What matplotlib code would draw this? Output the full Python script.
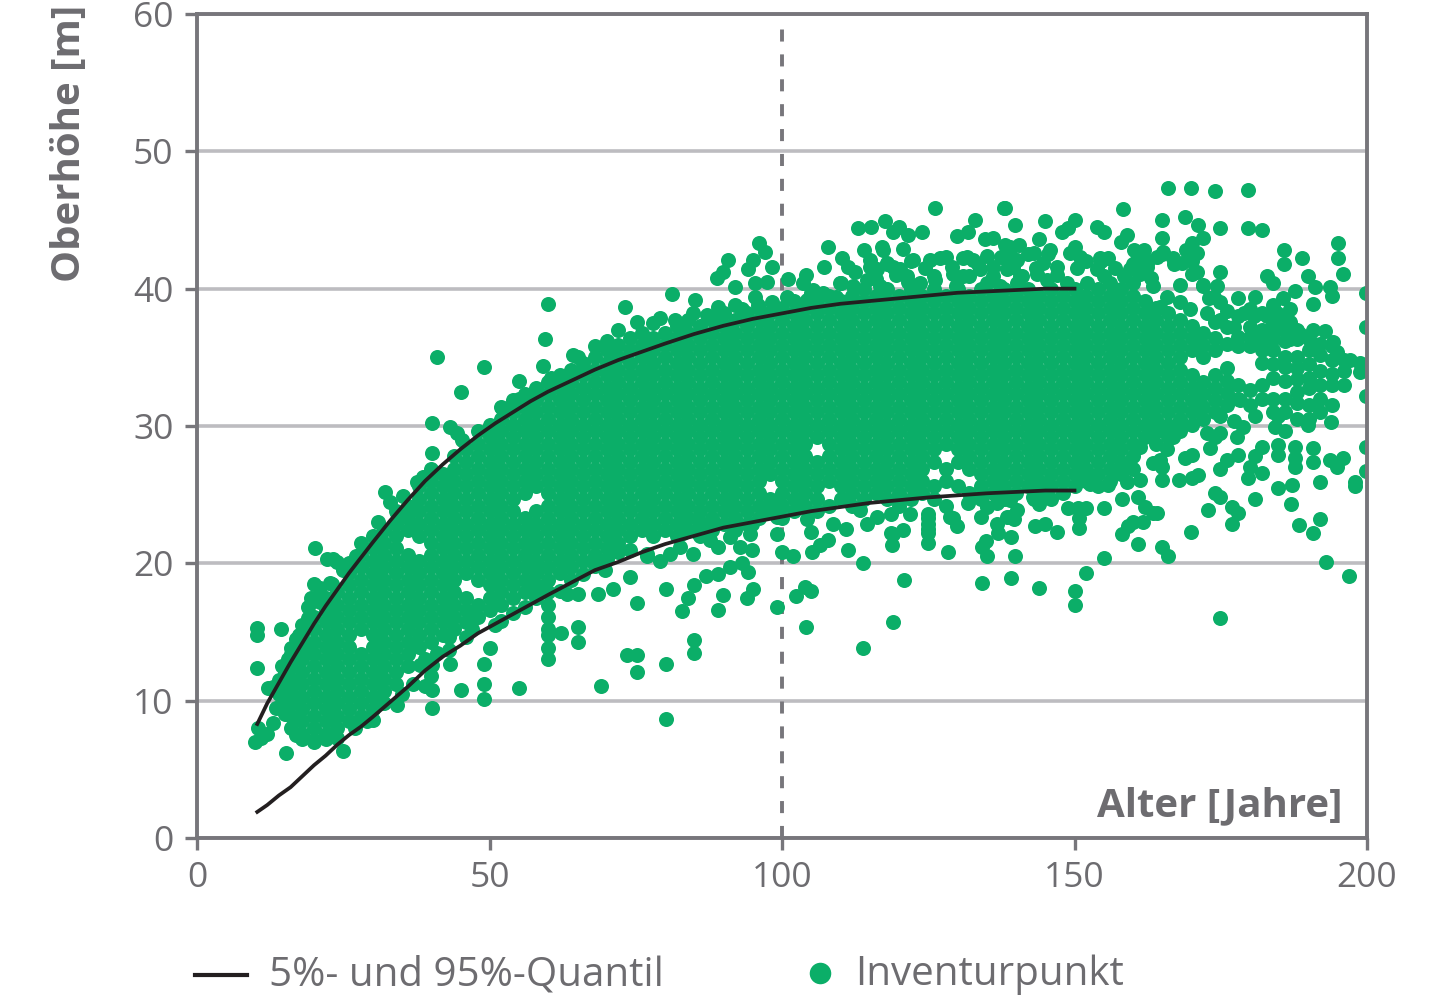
import matplotlib
matplotlib.use("Agg")
import matplotlib.pyplot as plt

# quantile curves
curve_age = [10.3, 12, 14, 16, 18, 20, 22, 24, 26, 28, 30, 33, 36, 39, 42, 45, 48, 51, 54, 57, 60, 64, 68, 72, 76, 80,
             85, 90, 95, 100, 105, 110, 115, 120, 125, 130, 135, 140, 145, 150]
q95_height = [8.3, 9.8, 11.3, 12.8, 14.2, 15.6, 16.9, 18.1, 19.3, 20.4, 21.5, 23.1, 24.6, 26.0, 27.2, 28.3, 29.3, 30.2,
              31.0, 31.8, 32.5, 33.3, 34.1, 34.8, 35.4, 36.0, 36.7, 37.3, 37.8, 38.2, 38.6, 38.9, 39.1, 39.3, 39.5,
              39.7, 39.8, 39.9, 40.0, 40.0]
q05_height = [1.9, 2.4, 3.1, 3.7, 4.5, 5.3, 6.0, 6.8, 7.5, 8.1, 8.8, 9.9, 11.0, 12.2, 13.2, 14.0, 14.9, 15.6, 16.3, 17.0,
              17.7, 18.6, 19.5, 20.1, 20.8, 21.4, 22.0, 22.6, 23.0, 23.4, 23.8, 24.1, 24.4, 24.6, 24.8, 24.95, 25.1,
              25.2, 25.3, 25.3]

# the dense body can't be read point by point, so these columns are estimates of its outline
ages_young = [16, 18, 20, 22, 24, 26, 28, 30, 32, 34, 36, 38]
heights_young = [
    [8.0, 8.9, 9.8, 10.7, 11.6, 12.5, 13.4],
    [7.6, 8.5, 9.4, 10.3, 11.2, 12.1, 13.0, 13.9, 14.8],
    [7.1, 8.0, 8.9, 9.8, 10.7, 11.6, 12.5, 13.4, 14.3, 15.2, 16.1],
    [7.6, 8.5, 9.4, 10.3, 11.2, 12.1, 13.0, 13.9, 14.8, 15.7, 16.6, 17.5],
    [8.0, 8.9, 9.8, 10.7, 11.6, 12.5, 13.4, 14.3, 15.2, 16.1, 17.0, 17.9],
    [8.5, 9.4, 10.3, 11.2, 12.1, 13.0, 13.9, 14.8, 15.7, 16.6, 17.5, 18.4, 19.3],
    [8.9, 9.8, 10.7, 11.6, 12.5, 13.4, 15.2, 16.1, 17.0, 17.9, 18.8, 19.7, 20.6],
    [9.4, 10.3, 11.2, 12.1, 13.0, 13.9, 14.8, 15.7, 16.6, 17.5, 18.4, 19.3, 20.2, 21.1],
    [10.7, 11.6, 12.5, 13.4, 14.3, 15.2, 16.1, 17.0, 17.9, 18.8, 19.7, 20.6, 21.5, 22.4],
    [11.2, 12.1, 13.0, 13.9, 14.8, 15.7, 16.6, 17.5, 18.4, 19.3, 20.2, 21.1, 22.0, 22.9, 23.8],
    [12.5, 13.4, 14.3, 15.2, 16.1, 17.0, 17.9, 18.8, 19.7, 20.6, 22.4, 23.3, 24.2],
    [13.9, 14.8, 15.7, 16.6, 17.5, 18.4, 19.3, 20.2, 22.0, 22.9, 23.8, 24.7, 25.6],
]

ages_rising = [40, 42, 44, 46, 48, 50, 52, 54, 56, 58, 60, 62, 64, 66, 68, 70, 72, 74]
heights_rising = [
    [14.3, 15.2, 16.1, 17.0, 17.9, 18.8, 19.7, 20.6, 21.5, 22.4, 23.3, 24.2, 25.1, 26.0, 26.9],
    [14.8, 15.7, 16.6, 17.5, 18.4, 19.3, 20.2, 21.1, 22.0, 22.9, 23.8, 24.7, 25.6, 26.5],
    [15.2, 16.1, 17.0, 17.9, 18.8, 19.7, 20.6, 21.5, 22.4, 23.3, 24.2, 25.1, 26.0, 26.9, 27.8],
    [15.7, 16.6, 17.5, 19.3, 20.2, 21.1, 22.0, 22.9, 23.8, 24.7, 25.6, 26.5, 27.4, 28.3],
    [16.1, 17.0, 18.8, 19.7, 20.6, 21.5, 22.4, 23.3, 24.2, 25.1, 26.0, 26.9, 27.8, 28.7, 29.6],
    [16.6, 17.5, 18.4, 19.3, 20.2, 21.1, 22.0, 22.9, 23.8, 24.7, 25.6, 26.5, 27.4, 28.3, 29.2, 30.1],
    [17.0, 17.9, 18.8, 19.7, 20.6, 21.5, 22.4, 23.3, 24.2, 25.1, 26.0, 26.9, 27.8, 28.7, 29.6, 30.5, 31.4],
    [17.5, 18.4, 19.3, 20.2, 21.1, 22.0, 22.9, 23.8, 24.7, 25.6, 26.5, 27.4, 28.3, 29.2, 30.1, 31.0, 31.9],
    [17.9, 18.8, 19.7, 20.6, 21.5, 22.4, 23.3, 25.1, 26.0, 26.9, 27.8, 28.7, 29.6, 30.5, 31.4, 32.3],
    [18.4, 19.3, 20.2, 21.1, 22.0, 22.9, 23.8, 25.6, 26.5, 27.4, 28.3, 29.2, 30.1, 31.0, 31.9, 32.8],
    [15.2, 16.1, 17.0, 17.9, 18.8, 19.7, 20.6, 21.5, 22.4, 23.3, 24.2, 25.1, 26.0, 26.9, 27.8, 28.7, 29.6, 30.5, 31.4, 32.3, 33.2],
    [19.3, 20.2, 21.1, 22.0, 22.9, 23.8, 24.7, 25.6, 26.5, 27.4, 28.3, 29.2, 30.1, 31.0, 31.9, 32.8, 33.7],
    [19.7, 20.6, 21.5, 22.4, 23.3, 24.2, 25.1, 26.0, 26.9, 27.8, 28.7, 29.6, 30.5, 31.4, 32.3, 33.2, 34.1],
    [20.2, 21.1, 22.0, 22.9, 23.8, 24.7, 25.6, 26.5, 27.4, 28.3, 29.2, 30.1, 31.0, 31.9, 32.8, 33.7, 34.6],
    [20.6, 21.5, 22.4, 23.3, 24.2, 25.1, 26.0, 26.9, 27.8, 28.7, 29.6, 30.5, 31.4, 32.3, 33.2, 34.1, 35.0],
    [21.1, 22.0, 22.9, 23.8, 24.7, 25.6, 26.5, 27.4, 28.3, 29.2, 30.1, 31.0, 31.9, 32.8, 33.7, 34.6, 35.5],
    [21.5, 22.4, 23.3, 24.2, 25.1, 26.0, 26.9, 27.8, 28.7, 29.6, 30.5, 31.4, 32.3, 33.2, 34.1, 35.0, 35.9],
    [22.0, 22.9, 23.8, 24.7, 25.6, 26.5, 27.4, 28.3, 29.2, 30.1, 31.0, 31.9, 32.8, 33.7, 34.6, 35.5, 36.4],
]

ages_middle = [76, 78, 80, 82, 84, 86, 88, 90, 92, 94, 96, 98, 100, 102, 104, 106, 108, 110]
heights_middle = [
    [22.4, 23.3, 24.2, 25.1, 26.0, 26.9, 27.8, 28.7, 29.6, 30.5, 31.4, 32.3, 33.2, 34.1, 35.0, 35.9, 36.8],
    [22.0, 22.9, 23.8, 24.7, 25.6, 26.5, 27.4, 28.3, 29.2, 30.1, 31.0, 31.9, 32.8, 33.7, 34.6, 35.5, 36.4],
    [22.4, 23.3, 24.2, 25.1, 26.0, 26.9, 27.8, 28.7, 29.6, 30.5, 31.4, 32.3, 33.2, 34.1, 35.0, 35.9, 36.8],
    [22.0, 22.9, 23.8, 24.7, 25.6, 26.5, 27.4, 28.3, 29.2, 30.1, 31.0, 31.9, 32.8, 33.7, 34.6, 35.5, 36.4, 37.3],
    [22.4, 23.3, 24.2, 25.1, 26.0, 26.9, 27.8, 28.7, 29.6, 30.5, 31.4, 32.3, 33.2, 34.1, 35.0, 35.9, 36.8, 37.7],
    [22.0, 22.9, 23.8, 24.7, 25.6, 26.5, 27.4, 28.3, 29.2, 30.1, 31.0, 31.9, 32.8, 33.7, 34.6, 35.5, 36.4, 37.3],
    [22.4, 23.3, 24.2, 25.1, 26.0, 26.9, 27.8, 28.7, 29.6, 30.5, 31.4, 32.3, 33.2, 34.1, 35.0, 35.9, 36.8, 37.7],
    [22.9, 23.8, 24.7, 25.6, 26.5, 27.4, 28.3, 29.2, 30.1, 31.0, 31.9, 32.8, 33.7, 34.6, 35.5, 36.4, 37.3, 38.2],
    [22.4, 23.3, 24.2, 25.1, 26.0, 26.9, 27.8, 28.7, 29.6, 30.5, 31.4, 32.3, 33.2, 34.1, 35.0, 35.9, 36.8, 37.7],
    [22.9, 23.8, 24.7, 25.6, 26.5, 27.4, 28.3, 29.2, 30.1, 31.0, 31.9, 32.8, 33.7, 34.6, 35.5, 36.4, 37.3, 38.2],
    [23.3, 24.2, 25.1, 26.0, 26.9, 27.8, 28.7, 29.6, 30.5, 31.4, 32.3, 33.2, 34.1, 35.0, 35.9, 36.8, 37.7, 38.6],
    [23.8, 24.7, 26.5, 27.4, 28.3, 29.2, 30.1, 31.0, 31.9, 32.8, 33.7, 34.6, 35.5, 36.4, 37.3, 38.2],
    [23.3, 24.2, 25.1, 26.0, 26.9, 27.8, 28.7, 29.6, 30.5, 31.4, 32.3, 33.2, 34.1, 35.0, 35.9, 36.8, 37.7, 38.6],
    [23.8, 24.7, 25.6, 26.5, 27.4, 28.3, 29.2, 30.1, 31.0, 31.9, 32.8, 33.7, 34.6, 35.5, 36.4, 37.3, 38.2, 39.1],
    [24.2, 25.1, 26.0, 26.9, 27.8, 28.7, 29.6, 30.5, 31.4, 32.3, 33.2, 34.1, 35.0, 35.9, 36.8, 37.7, 38.6],
    [23.8, 24.7, 25.6, 26.5, 27.4, 29.2, 30.1, 31.0, 31.9, 32.8, 33.7, 34.6, 35.5, 36.4, 37.3, 38.2, 39.1],
    [24.2, 26.0, 26.9, 27.8, 28.7, 29.6, 30.5, 31.4, 32.3, 33.2, 34.1, 35.0, 35.9, 36.8, 37.7, 38.6, 39.5],
    [24.7, 25.6, 26.5, 27.4, 28.3, 29.2, 30.1, 31.0, 31.9, 32.8, 33.7, 34.6, 35.5, 36.4, 37.3, 38.2, 39.1],
]

ages_plateau = [112, 114, 116, 118, 120, 122, 124, 126, 128, 130, 132, 134, 136, 138, 140]
heights_plateau = [
    [24.2, 25.1, 26.0, 26.9, 27.8, 28.7, 29.6, 30.5, 31.4, 32.3, 33.2, 34.1, 35.0, 35.9, 36.8, 37.7, 38.6, 39.5],
    [24.7, 25.6, 26.5, 27.4, 28.3, 29.2, 30.1, 31.0, 31.9, 32.8, 33.7, 34.6, 35.5, 36.4, 37.3, 38.2, 39.1, 40.0],
    [25.1, 26.0, 26.9, 27.8, 28.7, 29.6, 30.5, 31.4, 32.3, 33.2, 34.1, 35.0, 35.9, 36.8, 37.7, 38.6, 39.5],
    [24.7, 25.6, 26.5, 27.4, 28.3, 29.2, 30.1, 31.0, 31.9, 32.8, 33.7, 34.6, 35.5, 36.4, 37.3, 38.2, 39.1, 40.0],
    [24.2, 25.1, 26.0, 26.9, 27.8, 28.7, 29.6, 30.5, 31.4, 32.3, 33.2, 34.1, 35.0, 35.9, 36.8, 37.7, 38.6, 39.5],
    [24.7, 25.6, 26.5, 27.4, 28.3, 29.2, 30.1, 31.0, 31.9, 32.8, 33.7, 34.6, 35.5, 36.4, 37.3, 38.2, 39.1, 40.0],
    [25.1, 26.0, 26.9, 27.8, 28.7, 29.6, 30.5, 31.4, 32.3, 33.2, 34.1, 35.0, 35.9, 36.8, 37.7, 38.6, 39.5],
    [24.7, 25.6, 27.4, 28.3, 29.2, 30.1, 31.0, 31.9, 32.8, 33.7, 34.6, 35.5, 36.4, 37.3, 38.2, 39.1, 40.0],
    [24.2, 26.0, 26.9, 28.7, 29.6, 30.5, 31.4, 32.3, 33.2, 34.1, 35.0, 35.9, 36.8, 37.7, 38.6, 39.5],
    [25.6, 27.4, 28.3, 29.2, 30.1, 31.0, 31.9, 32.8, 33.7, 34.6, 35.5, 36.4, 37.3, 38.2, 39.1, 40.0],
    [25.1, 26.9, 27.8, 28.7, 29.6, 30.5, 31.4, 32.3, 33.2, 34.1, 35.0, 35.9, 36.8, 37.7, 38.6, 39.5],
    [24.7, 25.6, 26.5, 27.4, 28.3, 29.2, 30.1, 31.0, 31.9, 32.8, 33.7, 34.6, 35.5, 36.4, 37.3, 38.2, 39.1, 40.0],
    [25.1, 26.0, 26.9, 27.8, 28.7, 29.6, 30.5, 31.4, 32.3, 33.2, 34.1, 35.0, 35.9, 36.8, 37.7, 38.6, 39.5],
    [24.7, 25.6, 26.5, 27.4, 28.3, 29.2, 30.1, 31.0, 31.9, 32.8, 33.7, 34.6, 35.5, 36.4, 37.3, 38.2, 39.1, 40.0],
    [25.1, 26.0, 26.9, 27.8, 28.7, 29.6, 30.5, 31.4, 32.3, 33.2, 34.1, 35.0, 35.9, 36.8, 37.7, 38.6, 39.5],
]

ages_old = [142, 144, 146, 148, 150, 152, 154, 156, 158, 160, 162, 164, 166, 168, 170, 172]
heights_old = [
    [25.6, 26.5, 27.4, 28.3, 29.2, 30.1, 31.0, 31.9, 32.8, 33.7, 34.6, 35.5, 36.4, 37.3, 38.2, 39.1, 40.0],
    [25.1, 26.0, 26.9, 27.8, 28.7, 29.6, 30.5, 31.4, 32.3, 33.2, 34.1, 35.0, 35.9, 36.8, 37.7, 38.6, 39.5],
    [24.7, 25.6, 26.5, 27.4, 28.3, 29.2, 30.1, 31.0, 31.9, 32.8, 33.7, 34.6, 35.5, 36.4, 37.3, 38.2, 39.1, 40.0],
    [25.1, 26.0, 26.9, 27.8, 28.7, 29.6, 30.5, 31.4, 32.3, 33.2, 34.1, 35.0, 35.9, 36.8, 37.7, 38.6, 39.5],
    [25.6, 26.5, 27.4, 28.3, 29.2, 30.1, 31.0, 31.9, 32.8, 33.7, 34.6, 35.5, 36.4, 37.3, 38.2, 39.1, 40.0],
    [26.0, 26.9, 27.8, 28.7, 29.6, 30.5, 31.4, 32.3, 33.2, 34.1, 35.0, 35.9, 36.8, 37.7, 38.6, 39.5],
    [25.6, 26.5, 27.4, 28.3, 29.2, 30.1, 31.0, 31.9, 32.8, 33.7, 34.6, 35.5, 36.4, 37.3, 38.2, 39.1, 40.0],
    [26.0, 26.9, 27.8, 28.7, 29.6, 30.5, 31.4, 32.3, 33.2, 34.1, 35.0, 35.9, 36.8, 37.7, 38.6, 39.5, 40.4],
    [26.5, 27.4, 28.3, 29.2, 30.1, 31.0, 31.9, 32.8, 33.7, 34.6, 35.5, 36.4, 37.3, 38.2, 39.1, 40.0],
    [26.9, 27.8, 28.7, 29.6, 30.5, 31.4, 32.3, 33.2, 34.1, 35.0, 35.9, 36.8, 37.7, 38.6, 39.5, 40.4],
    [29.2, 30.1, 31.0, 31.9, 32.8, 33.7, 34.6, 35.5, 36.4, 37.3, 38.2, 39.1],
    [28.7, 29.6, 30.5, 31.4, 32.3, 33.2, 34.1, 35.0, 35.9, 36.8, 37.7, 38.6],
    [29.2, 30.1, 31.0, 31.9, 32.8, 33.7, 34.6, 35.5, 36.4, 37.3, 38.2],
    [29.6, 30.5, 31.4, 32.3, 33.2, 34.1, 35.0, 35.9, 36.8, 37.7],
    [30.1, 31.0, 31.9, 32.8, 33.7, 35.5, 36.4, 37.3],
    [30.5, 31.4, 32.3, 33.2, 35.0, 35.9, 36.8],
]

ages_tail = [174, 176, 178, 180, 182, 184, 186, 188, 190, 192, 194, 196]
heights_tail = [
    [31.0, 31.9, 32.8, 33.7, 35.5, 36.4, 37.6],
    [31.5, 32.4, 33.3, 34.2, 36.0, 37.2, 38.4],
    [32.0, 33.0, 35.8, 36.5, 38.0],
    [31.5, 32.6, 35.8, 36.5, 37.2, 38.5],
    [32.0, 33.0, 34.6, 35.5, 36.2, 37.0, 38.2],
    [31.0, 32.0, 33.5, 34.5, 35.5, 36.3, 37.5, 38.8],
    [31.0, 32.0, 33.3, 34.3, 35.0, 36.2, 37.0, 38.0],
    [30.5, 31.7, 32.5, 33.4, 34.2, 35.0, 36.3, 37.0],
    [30.5, 31.5, 32.8, 33.5, 34.5, 35.5, 36.3],
    [31.0, 32.0, 33.0, 34.0, 35.2, 36.0],
    [31.5, 33.0, 33.8, 34.8, 35.8],
    [33.0, 34.0, 34.8],
]

# single points at the edge of the cloud, low side
low_points = [
    (10, 7.0), (10.5, 8.0), (11, 7.3), (12, 7.6), (13, 8.4), (13.5, 9.5), (15.2, 6.2), (25, 6.3), (23, 7.5), (30.1, 8.6),
    (34.2, 9.7), (40.2, 9.5), (40.2, 10.8), (38.9, 11.1), (40, 11.8), (38.1, 12.6), (40.2, 12.6), (43.2, 12.7),
    (45.1, 10.8), (49, 10.1), (49, 11.2), (49, 12.7), (50, 13.8), (55, 10.9), (69, 11.1), (60, 13.0), (60, 13.8),
    (60, 14.8), (62.2, 14.9), (65.1, 15.4), (65.1, 14.3), (75.2, 13.3), (73.5, 13.3), (75.2, 12.1), (80.2, 12.7),
    (80.2, 8.7), (75.2, 17.1), (80.2, 18.1), (74, 19.0), (82.9, 16.5), (84, 17.5), (85, 18.4), (87, 19.1), (89, 19.2),
    (91.1, 19.7), (93.2, 20.0), (94.2, 19.4), (85, 14.4), (85, 13.5), (89, 16.6), (89.9, 17.7), (94, 17.5), (95, 18.1),
    (99.1, 16.8), (102.4, 17.6), (103.9, 18.3), (105, 18.0), (104.1, 15.4), (113.8, 13.8), (119, 15.7), (120.9, 18.8),
    (134.2, 18.6), (139.1, 18.9), (113.8, 20.0), (128.4, 20.8), (111.3, 21.0), (105.1, 20.8), (106.5, 21.3),
    (107.9, 21.7), (100, 20.8), (101.9, 20.5), (94.9, 21.0), (92.8, 21.2), (99.1, 22.1), (118.8, 21.3), (119, 22.1),
    (125, 21.5), (125, 22.5), (125, 23.3), (134.9, 21.6), (134.2, 21.2), (135, 20.5), (139.1, 21.9), (139.8, 20.5),
    (129.2, 23.3), (129.9, 22.7), (143.9, 18.2), (150, 18.0), (150, 17.0), (152, 19.3), (155, 20.4), (147, 22.3),
    (145, 22.9), (143.2, 22.7), (143.9, 24.3), (142.9, 24.8), (148.9, 24.0), (150.6, 24.0), (152, 24.0), (155, 24.0),
    (150.8, 22.6), (150.8, 23.3), (158.1, 24.7), (160.9, 24.8), (162, 24.1), (163.4, 23.7), (164.1, 23.7),
    (161.7, 23.0), (160, 23.0), (159.1, 22.7), (158.1, 22.1), (160.9, 21.4), (165, 21.2), (166, 20.5), (169.9, 22.3),
    (152.6, 25.9), (155.7, 25.7), (159, 25.9), (161.2, 26.1), (163.5, 27.3), (165, 27.0), (165, 26.1), (167.9, 26.1),
    (170.1, 26.2), (171.1, 26.4), (168.9, 27.7), (170.1, 27.9), (174, 25.1), (174.9, 24.8), (172.8, 23.9), (176.9, 24.1),
    (178, 23.7), (176.9, 22.9), (174.9, 16.0), (174.9, 26.9), (176, 27.5), (178, 27.9), (180.9, 27.8), (182, 28.5),
    (173.2, 28.4), (174, 29.2), (177.8, 29.2), (178.8, 29.9), (180.9, 30.7), (179.7, 26.2), (180, 27.0), (182, 26.6),
    (180.9, 24.7), (184.8, 25.5), (187.2, 25.7), (187, 24.3), (188.4, 22.8), (190.8, 22.2), (192, 23.2), (193, 20.1),
    (196.9, 19.1), (184.8, 28.6), (184.8, 27.9), (187.7, 28.5), (187.7, 27.7), (187.7, 27.0), (184.3, 29.9), (186, 29.6),
    (184.8, 30.7), (189.9, 30.1), (190.8, 28.4), (190.8, 27.4), (192, 25.9), (193.8, 30.3), (193.7, 27.5), (194.9, 27.0),
    (195.9, 27.7), (198, 25.9), (198, 25.6), (199.8, 26.7), (199.8, 28.5),
]

# clumps hanging below the body
fringe_low = [
    (29, 8.5), (27, 8.0), (24, 7.3), (22, 7.2), (20, 7.0), (18, 7.2), (17, 7.5), (32, 9.8), (35, 10.5), (37, 11.2), (39, 13.0),
    (41, 13.5), (43, 13.7), (43, 14.6), (46, 14.6), (47, 15.2), (47, 16.0), (52, 15.8), (54, 16.4), (51, 15.5), (56, 16.8),
    (58, 17.5), (62, 18.0), (64, 18.8), (66, 19.2), (68, 19.8), (70, 20.3), (72, 20.8), (63.2, 17.8), (65.1, 17.8),
    (68.5, 17.8), (71.1, 18.1), (69.7, 19.5), (58.1, 19.4), (59.1, 18.3), (79.1, 20.2), (76.9, 20.5), (74, 21.0),
    (76.9, 20.7), (80.8, 20.7), (82.6, 21.2), (84.8, 20.7), (83.1, 22.9), (85.7, 23.2), (83.1, 22.2), (85.7, 22.2),
    (88.3, 22.9), (89.1, 21.2), (87.7, 21.7), (91.7, 22.9), (91.1, 21.9), (94.8, 22.9), (94.5, 22.1), (99.7, 24.4),
    (99.1, 23.4), (104.2, 23.2), (105, 22.3), (108.8, 22.9), (111, 22.5), (114.5, 22.9), (116.2, 23.4), (113.3, 23.9),
    (118.7, 23.6), (120.7, 22.4), (118.7, 22.2), (121.9, 23.6), (125, 23.6), (125, 22.9), (125, 22.2), (128.7, 23.4),
    (131.8, 24.4), (134.1, 23.4), (135, 24.1), (136.7, 22.9), (137, 22.2), (139, 23.4), (136.7, 24.4), (139, 24.6),
    (140.1, 23.9), (139.6, 23.2), (143, 24.7), (138.4, 23.4), (145.3, 25.6), (152.7, 25.8), (164.6, 29.7), (166.9, 29.2),
    (165.8, 28.3), (164.6, 27.5), (168.1, 30.2), (171.5, 31.7), (174.9, 30.7), (177.2, 30.4), (178.3, 31.9), (172.6, 29.5),
    (174.9, 29.5), (161.2, 28.5), (159, 27.3),
]

# single points, high side
high_points = [
    (10.2, 15.3), (10.2, 14.8), (10.2, 12.4), (14.4, 15.2), (12.1, 10.9), (20.2, 21.1), (22.2, 20.3), (23.2, 20.3),
    (27.2, 20.5), (20, 18.5), (22.7, 18.6), (20.5, 17.5), (19, 16.8), (17.5, 14.8), (16, 13.8), (32.1, 25.2), (35.2, 24.9),
    (34.2, 23.7), (37.6, 25.9), (38.6, 26.3), (39.8, 26.3), (40.2, 28.0), (40.2, 30.2), (43.2, 29.9), (44.4, 29.5),
    (45.3, 29.0), (41, 35.0), (49, 34.3), (45.1, 32.5), (52.1, 31.3), (55, 33.3), (55, 32.0), (59.1, 34.4), (59.5, 36.3),
    (60, 38.9), (64.3, 35.2), (65.1, 35.0), (60.5, 33.5), (66, 34.0), (68, 35.8), (70, 36.2), (73.2, 38.7), (75.2, 37.6),
    (72, 37.0), (78, 37.5), (79.1, 37.9), (81.2, 39.6), (81.7, 37.7), (84.8, 38.2), (85.1, 39.2), (87.2, 38.1), (88.5, 37.9),
    (89, 38.7), (88.9, 40.8), (89.9, 41.2), (90.8, 42.1), (92, 38.8), (92, 40.1), (93.2, 38.5), (94.2, 41.4), (95, 42.1),
    (95.4, 40.4), (95.4, 39.4), (95.9, 38.8), (96.1, 43.3), (97.1, 42.7), (97.4, 40.5), (98.3, 41.6), (98.3, 39.0),
    (100.9, 39.4), (101, 40.7), (104.1, 41.0), (105, 39.7), (107.2, 41.6), (107.9, 43.0), (110.3, 42.2), (111.3, 41.6),
    (112.5, 41.2), (110, 40.4), (113, 44.4), (115.2, 44.5), (117.6, 44.9), (120, 44.5), (119, 44.1), (121.5, 43.9),
    (123.9, 44.1), (114, 42.8), (115, 41.6), (116, 40.7), (117.1, 43.0), (118, 41.8), (120.7, 42.9), (119.5, 41.0), (122, 42.0),
    (121.5, 40.5), (124.5, 41.5), (126.2, 45.9), (127, 42.2), (126, 40.9), (129, 41.6), (129.9, 43.8), (131.8, 44.1),
    (131, 42.2), (133, 45.0), (132, 40.9), (133.5, 41.8), (134.7, 43.6), (136.1, 43.7), (135, 42.4), (137.5, 42.3), (137.9, 45.9),
    (138.1, 45.9), (138.1, 43.2), (136, 40.9), (139.8, 44.6), (139, 41.9), (140.5, 43.2), (141, 40.9), (142, 42.5), (143.5, 41.5),
    (144, 43.6), (145, 44.9), (145.5, 42.5), (147, 41.0), (147.9, 44.1), (148.9, 44.4), (150, 45.0), (150, 43.0), (150.5, 41.5),
    (152, 42.0), (153.8, 44.5), (155, 44.1), (154.5, 42.0), (157.9, 43.4), (158.3, 45.8), (159, 43.9), (157, 41.5), (160, 41.8),
    (161, 42.7), (162.5, 42.0), (163, 40.8), (165, 45.0), (165, 43.7), (165, 42.5), (167, 41.8), (166, 47.3), (169.9, 47.3),
    (174, 47.1), (179.7, 47.2), (168.9, 45.2), (171.1, 44.6), (172, 43.7), (174.9, 44.4), (169, 42.8), (170, 42.0), (171, 41.2),
    (172, 40.3), (174.9, 41.2), (173, 39.3), (179.7, 44.4), (182, 44.3), (185.8, 42.8), (185.8, 41.8), (188.9, 42.2),
    (195, 43.3), (195, 42.2), (195.9, 41.1), (182.9, 40.9), (183.9, 40.4), (189.9, 40.9), (191.1, 40.1), (193.7, 40.1),
    (194, 39.5), (187.7, 39.8), (199.8, 39.7), (190.8, 38.9), (180.9, 39.4), (178, 39.3), (185.6, 39.3), (186.8, 38.5),
    (199.8, 37.2), (190.8, 37.0), (192.8, 36.9), (194.2, 36.1), (194.9, 35.4), (197.1, 34.8), (198.8, 34.6), (198.8, 33.9),
    (199.8, 32.2),
]

# clumps above the body and around the young edge
fringe_high = [
    (13, 11.0), (14, 10.5), (14, 11.5), (14.5, 12.5), (15, 9.0), (15, 10.0), (15, 11.0), (15, 12.0), (15.5, 13.0), (17, 13.5),
    (17, 14.5), (18, 15.5), (19, 16.0), (19, 14.0), (21, 17.2), (21, 18.2), (19.5, 17.5), (23, 18.5), (25, 19.5), (26, 20.0),
    (24, 20.1), (28, 21.5), (30, 22.0), (31, 23.0), (33, 24.5), (103.6, 40.4), (105.3, 39.9), (107, 39.7), (104.2, 39.2),
    (109.9, 40.4), (109.3, 39.4), (112.2, 40.2), (114.5, 40.6), (116.7, 40.2), (119, 41.6), (120.2, 41.4), (121.3, 40.9),
    (117.3, 42.8), (117.9, 41.9), (115, 42.1), (116.2, 41.4), (122.4, 42.1), (123.6, 40.4), (126.1, 40.6), (125.3, 42.1),
    (128.1, 42.3), (129.3, 41.1), (129.8, 40.2), (131, 40.9), (131.6, 42.3), (132.7, 42.1), (133.8, 41.4), (135, 40.4),
    (136.1, 41.6), (137.8, 42.3), (139.5, 41.6), (137.3, 40.2), (140.1, 40.4), (139, 43.0), (139, 42.8), (140.1, 42.1),
    (138.4, 41.4), (140.7, 40.9), (143, 42.6), (144.7, 41.9), (145.8, 42.8), (147, 41.6), (143.6, 41.1), (145.3, 40.6),
    (148.7, 40.4), (149.3, 42.6), (151, 42.3), (154.4, 42.2), (155.8, 42.2), (153.8, 41.4), (155, 40.9), (152.1, 40.4),
    (160.1, 42.8), (161.8, 42.8), (160.7, 42.1), (159.5, 41.4), (158.4, 40.9), (161.2, 41.1), (162.4, 41.6), (164.1, 42.3),
    (165.2, 42.7), (166.9, 42.2), (168.4, 41.9), (170, 43.3), (170.9, 42.6), (170, 41.1), (163.5, 40.2), (168, 40.3),
    (172, 40.2), (174.3, 40.2), (173.8, 39.4), (165.8, 39.4), (164.7, 38.7), (168, 39.0), (169.8, 38.5), (172.6, 38.2),
    (174.9, 39.0), (174.9, 37.7), (177.2, 37.2), (178.9, 38.2), (180.6, 38.0), (182.9, 38.0), (184.6, 38.2), (185.7, 37.5),
    (186.9, 37.6), (181.7, 36.7), (184, 36.7), (186.9, 36.3), (188.6, 36.7), (190.9, 36.0),
]

x_ticks = [0, 50, 100, 150, 200]
y_ticks = [0, 10, 20, 30, 40, 50, 60]

GREEN = "#0bae68"
GREY = "#77767b"
TEXT = "#6d6c70"
GRID = "#bdbcc0"
W, H = 1443, 996

plt.rcParams["font.family"] = ["Open Sans", "DejaVu Sans"]

ages = []
heights = []
for col_ages, col_heights in [(ages_young, heights_young), (ages_rising, heights_rising), (ages_middle, heights_middle),
                              (ages_plateau, heights_plateau), (ages_old, heights_old), (ages_tail, heights_tail)]:
    for a, hs in zip(col_ages, col_heights):
        ages += [a] * len(hs)
        heights += hs
for a, h in low_points + fringe_low + high_points + fringe_high:
    ages.append(a)
    heights.append(h)

fig = plt.figure(figsize=(W / 100, H / 100), dpi=100)
ax = fig.add_axes([197 / W, 1 - 838 / H, (1367 - 197) / W, (838 - 14) / H])

ax.set_xlim(0, 200)
ax.set_ylim(0, 60)
ax.set_xticks(x_ticks)
ax.set_yticks(y_ticks)
ax.tick_params(axis="x", length=8.5, width=2.4, color=GREY, labelcolor=TEXT, labelsize=25.5, pad=8)
ax.tick_params(axis="y", length=9, width=2.4, color=GREY, labelcolor=TEXT, labelsize=25.5, pad=8)
ax.yaxis.grid(True, color=GRID, lw=2.6, zorder=0)
ax.set_axisbelow(True)
for s in ax.spines.values():
    s.set_color(GREY)
    s.set_linewidth(2.8)
    s.set_zorder(5)

ax.plot([100, 100], [0, 59.2], color=GREY, lw=2.8, ls=(0, (3.1, 3.3)), zorder=1)
ax.scatter(ages, heights, s=117, color=GREEN, linewidths=0, zorder=2)
ax.plot(curve_age, q95_height, color="#231f20", lw=2.7, zorder=3)
ax.plot(curve_age, q05_height, color="#231f20", lw=2.7, zorder=3)

fig.text(69 / W, 1 - 143 / H, "Oberhöhe [m]", rotation=90, ha="center", va="center",
         fontsize=29, fontweight="bold", color=TEXT)
fig.text(1342 / W, 1 - 816 / H, "Alter [Jahre]", ha="right", va="baseline",
         fontsize=29, fontweight="bold", color=TEXT)

# legend laid out by hand, it sits below the axes
fig.add_artist(plt.Line2D([195 / W, 247 / W], [1 - 975 / H, 1 - 975 / H], color="#231f20", lw=3))
fig.text(269 / W, 1 - 985 / H, "5%- und 95%-Quantil", ha="left", va="baseline", fontsize=29, color=TEXT)
fig.add_artist(plt.Line2D([820 / W], [1 - 973 / H], marker="o", ms=15.5, color=GREEN, mew=0, ls="none"))
fig.text(855 / W, 1 - 985 / H, "Inventurpunkt", ha="left", va="baseline", fontsize=29, color=TEXT)

fig.savefig("out.png", dpi=100)
